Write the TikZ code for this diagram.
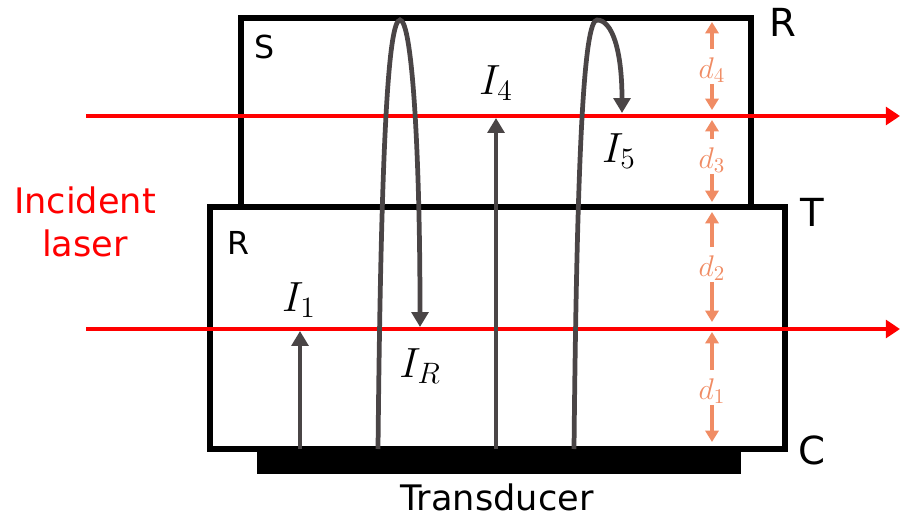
\RequirePackage{fix-cm}
\documentclass[tikz,border=0pt]{standalone}
\usepackage{fontspec}
\setmainfont{DejaVu Sans}
\usepackage{xcolor}
\usepackage{tikz}
\usetikzlibrary{arrows.meta}
\definecolor{laserred}{HTML}{FF0000}
\definecolor{wavegray}{HTML}{4A4546}
\definecolor{dimsalmon}{HTML}{F08C64}

\begin{document}
\begin{tikzpicture}[x=0.2mm, y=-0.2mm,
    layerbox/.style={draw=black, line width=3.2pt, line join=miter},
    laser/.style={draw=laserred, line width=2.8pt, -{Triangle[length=8pt, width=10pt]}},
    wave/.style={draw=wavegray, line width=2.7pt, -{Triangle[length=8.5pt, width=9.5pt]}},
    dimarrow/.style={draw=dimsalmon, line width=2pt, -{Triangle[length=6.5pt, width=7.5pt]}},
    bigletter/.style={font=\fontsize{22}{26}\selectfont},
    smallletter/.style={font=\fontsize{18}{21}\selectfont},
    intensity/.style={inner sep=0pt, font=\fontsize{24}{28}\selectfont},
    dlabel/.style={inner sep=0.5pt, text=dimsalmon, font=\fontsize{17}{20}\selectfont}]
  \useasboundingbox (0,0) rectangle (901,519);

  % layers and transducer
  \draw[layerbox] (241,18) rectangle (751,207);
  \draw[layerbox] (210,207) rectangle (785,449);
  \fill[black] (257,449) rectangle (741,474);
  \node[font=\fontsize{20}{24}\selectfont] (transducer) at (497,497) {Transducer};

  % letters at the layers
  \node[smallletter] (lblS) at (265,47) {S};
  \node[smallletter] (lblRlow) at (238,243) {R};
  \node[bigletter] (lblRtop) at (783,22) {R};
  \node[bigletter] (lblT) at (812,212) {T};
  \node[bigletter] (lblC) at (812,450) {C};

  % incident laser
  \node[text=laserred, align=center, font=\fontsize{20}{24.4}\selectfont] (incident) at (85,222) {Incident\\laser};
  \coordinate (laserAin) at (86,116);
  \coordinate (laserAout) at (900,116);
  \coordinate (laserBin) at (86,329);
  \coordinate (laserBout) at (900,329);
  \draw[laser] (laserAin) -- (laserAout);
  \draw[laser] (laserBin) -- (laserBout);

  % waves from the transducer
  \coordinate (src1) at (300,449);
  \coordinate (srcR) at (378,449);
  \coordinate (src4) at (496,449);
  \coordinate (src5) at (574,449);
  \coordinate (hit1) at (300,331);
  \coordinate (hitR) at (420,327);
  \coordinate (hit4) at (496,118);
  \coordinate (hit5) at (622,113);
  \draw[wave] (src1) -- (hit1);
  \draw[wave] (src4) -- (hit4);
  \draw[wave] (srcR) .. controls (381,150) and (388,20) .. (400,20)
                     .. controls (412,20) and (420,150) .. (hitR);
  \draw[wave] (src5) .. controls (577,150) and (584,20) .. (597,20)
                     .. controls (612,20) and (622,50) .. (hit5);
  \node[intensity] (I1) at (299,300) {$I_1$};
  \node[intensity] (IR) at (420,366) {$I_R$};
  \node[intensity] (I4) at (496,83) {$I_4$};
  \node[intensity] (I5) at (619,151) {$I_5$};

  % thicknesses
  \foreach \k/\ytop/\ylab/\ybot in {4/22/70/110, 3/120/160/202, 2/212/268/322, 1/332/391/442}{
    \node[dlabel] (d\k) at (712,\ylab) {$d_{\k}$};
    \coordinate (d\k top) at (712,\ytop);
    \coordinate (d\k bot) at (712,\ybot);
    \draw[dimarrow, shorten <=4pt] (d\k.north) -- (d\k top);
    \draw[dimarrow] (d\k.south) -- (d\k bot);
  }
\end{tikzpicture}
\end{document}
